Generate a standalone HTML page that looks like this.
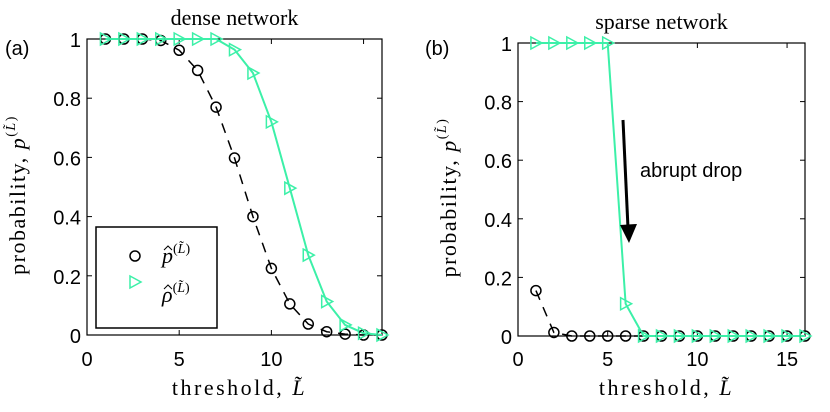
<!DOCTYPE html>
<html><head><meta charset="utf-8"><style>
body{margin:0;background:#fff}
svg{display:block}
.tk{font-family:"Liberation Sans",sans-serif;font-size:20px;fill:#000}
.sf{font-family:"Liberation Serif",serif;fill:#000}
</style></head><body>
<svg id="s" width="830" height="412" xmlns="http://www.w3.org/2000/svg"></svg>
<script>
const thresholds=[1,2,3,4,5,6,7,8,9,10,11,12,13,14,15,16];
const denseP=[1,1,1,0.995,0.962,0.894,0.77,0.598,0.40,0.225,0.105,0.037,0.011,0.003,0,0];
const denseRho=[1,1,1,1,1,1,1,0.964,0.885,0.72,0.496,0.27,0.113,0.034,0.006,0];
const sparseP=[0.155,0.012,0,0,0,0,0,0,0,0,0,0,0,0,0,0];
const sparseRho=[1,1,1,1,1,0.11,0,0,0,0,0,0,0,0,0,0];
const xTicks=[0,5,10,15];
const yTicks=[0,0.2,0.4,0.6,0.8,1];
const yTickLabels=["0","0.2","0.4","0.6","0.8","1"];
const NS="http://www.w3.org/2000/svg";
const svg=document.getElementById('s');
function mk(t,a,p){const e=document.createElementNS(NS,t);for(const k in a)e.setAttribute(k,a[k]);(p||svg).appendChild(e);return e;}
const G='#3cf0a8';
function panel(id,x0,x1,y0,y1,pv,rv,title,label,lx){
  const g=mk('g',{});
  
  
  const X=v=>x0+(x1-x0)*v/16, Y=v=>y1-(y1-y0)*v;
  mk('rect',{x:x0,y:y0,width:x1-x0,height:y1-y0,fill:'none',stroke:'#000','stroke-width':1.2},g);
  xTicks.forEach(t=>{
    mk('line',{x1:X(t),x2:X(t),y1:y1,y2:y1-5,stroke:'#000'},g);
    mk('line',{x1:X(t),x2:X(t),y1:y0,y2:y0+5,stroke:'#000'},g);
    const tx=mk('text',{x:X(t),y:366,'text-anchor':'middle',class:'tk'},g);tx.textContent=t;
    
    
  });
  yTicks.forEach((t,i)=>{
    mk('line',{x1:x0,x2:x0+5,y1:Y(t),y2:Y(t),stroke:'#000'},g);
    mk('line',{x1:x1,x2:x1-5,y1:Y(t),y2:Y(t),stroke:'#000'},g);
    const tx=mk('text',{x:x0-6,y:Y(t)+8,'text-anchor':'end',class:'tk'},g);tx.textContent=yTickLabels[i];
    
    
  });
  const pp=thresholds.map((t,i)=>X(t)+','+Y(pv[i])).join(' ');
  const l1=mk('polyline',{points:pp,fill:'none',stroke:'#000','stroke-width':1.5,'stroke-dasharray':'10,8'},g);
  
  
  const rp=thresholds.map((t,i)=>X(t)+','+Y(rv[i])).join(' ');
  const l2=mk('polyline',{points:rp,fill:'none',stroke:G,'stroke-width':2},g);
  
  
  thresholds.forEach((t,i)=>{
    const c=mk('circle',{cx:X(t),cy:Y(pv[i]),r:5,fill:'none',stroke:'#000','stroke-width':1.5},g);
    
    
    const x=X(t),y=Y(rv[i]);
    const m=mk('polygon',{points:`${x-5},${y-6} ${x+6},${y} ${x-5},${y+6}`,fill:'none',stroke:G,'stroke-width':1.5},g);
    
    
  });
  const tt=mk('text',{x:(x0+x1)/2,y:y0-14,'text-anchor':'middle',class:'sf','font-size':22},g);tt.textContent=title;
  
  
  const pl=mk('text',{x:lx,y:55,class:'tk','font-size':20},g);pl.textContent=label;
  
  
  const xl=mk('text',{x:(x0+x1)/2+5,y:395,'text-anchor':'middle',class:'sf','font-size':22,'letter-spacing':'2.5'},g);
  xl.innerHTML='threshold, <tspan font-style="italic">L̃</tspan>';
  
  
  const cy=(y0+y1)/2+8, cx=x0-62;
  const yl=mk('text',{x:cx,y:cy,transform:`rotate(-90 ${cx} ${cy})`,'text-anchor':'middle',class:'sf','font-size':22,'letter-spacing':'1.5'},g);
  yl.innerHTML='probability, <tspan font-style="italic">p</tspan><tspan dy="-10" font-size="14">(<tspan font-style="italic">L̃</tspan>)</tspan>';
  
  
}
panel('dense-panel',87,382,39,335,denseP,denseRho,'dense network','(a)',5);
panel('sparse-panel',518,805,43,336,sparseP,sparseRho,'sparse network','(b)',425);
// legend
const lg=mk('g',{});


mk('rect',{x:96,y:227,width:121,height:101,fill:'#fff',stroke:'#000','stroke-width':1.5},lg);
mk('circle',{cx:135,cy:256,r:5,fill:'none',stroke:'#000','stroke-width':1.5},lg);
mk('polygon',{points:'130,276 141,282 130,288',fill:'none',stroke:G,'stroke-width':1.5},lg);
const t1=mk('text',{x:162,y:263,class:'sf','font-size':22},lg);
t1.innerHTML='<tspan font-style="italic">p</tspan><tspan dy="-10" font-size="14">(<tspan font-style="italic">L̃</tspan>)</tspan>';


mk('path',{d:'M164,250 L168,246 L172,250',fill:'none',stroke:'#000','stroke-width':1},lg);
const t2=mk('text',{x:162,y:302,class:'sf','font-size':22},lg);
t2.innerHTML='<tspan font-style="italic">ρ</tspan><tspan dy="-10" font-size="14">(<tspan font-style="italic">L̃</tspan>)</tspan>';


mk('path',{d:'M164,289 L168,285 L172,289',fill:'none',stroke:'#000','stroke-width':1},lg);
// annotation
const an=mk('g',{});


mk('line',{x1:623,y1:120,x2:628,y2:228,stroke:'#000','stroke-width':3},an);
mk('polygon',{points:'620,225 637,224 629,243',fill:'#000'},an);
const at=mk('text',{x:640,y:177,class:'tk','font-size':20},an);at.textContent='abrupt drop';
</script>
</body></html>
